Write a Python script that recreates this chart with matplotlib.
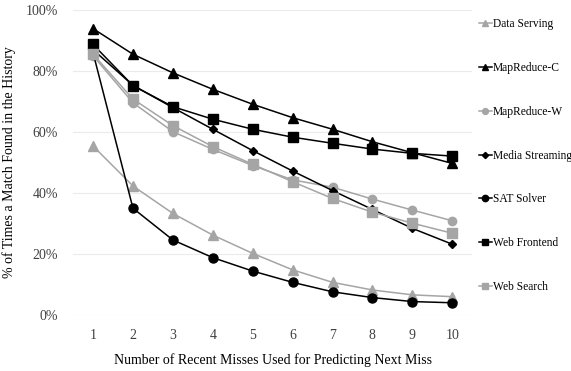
import numpy as np
import matplotlib
matplotlib.use("Agg")
import matplotlib.pyplot as plt

plt.rcParams['font.family'] = ['Liberation Serif', 'DejaVu Serif']

x = np.arange(1, 11)
data_serving    = [55.4, 42.3, 33.3, 26.2, 20.2, 14.8, 10.7, 8.2, 6.6, 6.0]
mapreduce_c     = [93.9, 85.5, 79.4, 74.0, 69.1, 64.7, 60.9, 56.8, 53.2, 49.7]
mapreduce_w     = [85.0, 69.6, 60.1, 54.3, 49.0, 44.3, 41.9, 38.0, 34.4, 30.9]
media_streaming = [87.0, 75.3, 68.0, 60.9, 53.9, 47.2, 40.8, 34.6, 28.4, 23.2]
sat_solver      = [86.0, 35.0, 24.6, 18.8, 14.4, 10.7, 7.6, 5.7, 4.4, 4.0]
web_frontend    = [88.7, 75.2, 68.3, 64.2, 60.9, 58.3, 56.3, 54.4, 53.0, 52.1]
web_search      = [85.5, 70.8, 62.1, 55.2, 49.4, 43.7, 38.2, 33.7, 30.1, 26.8]

gray = '#A5A5A5'
series = [
    ('Data Serving', data_serving, gray, '^', 6.5),
    ('MapReduce-C', mapreduce_c, 'black', '^', 6.5),
    ('MapReduce-W', mapreduce_w, gray, 'o', 6),
    ('Media Streaming', media_streaming, 'black', 'D', 4.5),
    ('SAT Solver', sat_solver, 'black', 'o', 6.5),
    ('Web Frontend', web_frontend, 'black', 's', 6.5),
    ('Web Search', web_search, gray, 's', 6.5),
]

fig = plt.figure(figsize=(5.71, 3.71), dpi=100)
ax = fig.add_axes([0.128, 0.151, 0.699, 0.822])

for name, vals, col, mk, ms in series:
    ax.plot(x, vals, color=col, marker=mk, markersize=ms, linewidth=1.1, label=name)

ax.set_xlim(0.5, 10.5)
ax.set_ylim(0, 100)
ax.set_xticks(x)
ax.set_yticks(np.arange(0, 101, 20))
ax.set_yticklabels(['%d%%' % v for v in range(0, 101, 20)])
ax.grid(axis='y', color='#EBEBEB', linewidth=0.8)
ax.set_axisbelow(True)
for s in ax.spines.values():
    s.set_visible(False)
ax.tick_params(length=0, labelsize=10, colors='#404040', pad=10)
ax.tick_params(axis='y', pad=11)
ax.set_xlabel('Number of Recent Misses Used for Predicting Next Miss', fontsize=10, labelpad=8)
ax.set_ylabel('% of Times a Match Found in the History', fontsize=10, labelpad=7)

ax.legend(loc='upper left', bbox_to_anchor=(1.0, 0.995), frameon=False, fontsize=8.3,
          handlelength=1.1, handletextpad=0.1, labelspacing=2.75, markerscale=0.7,
          borderaxespad=0.2)

fig.savefig('out.png', dpi=100)
